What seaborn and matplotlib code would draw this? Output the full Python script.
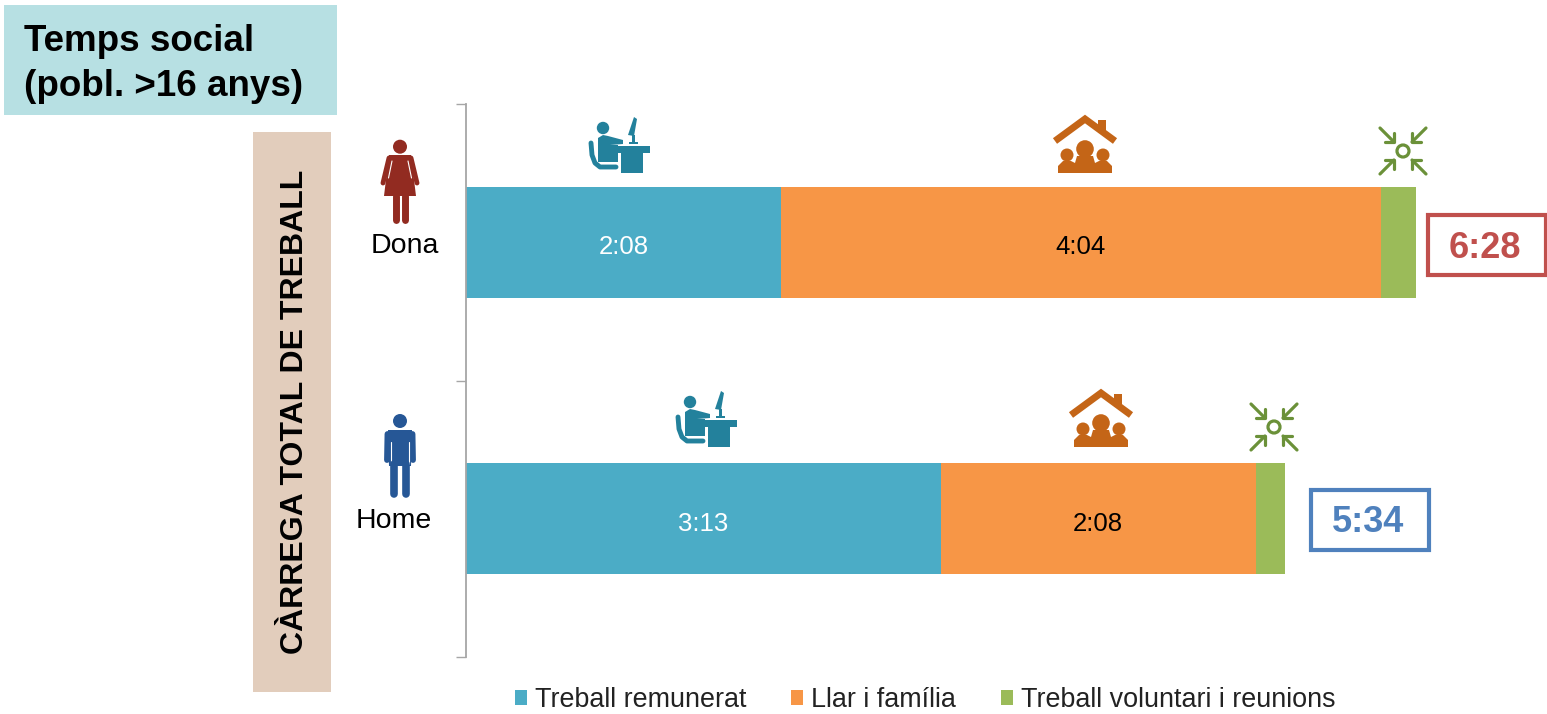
import pandas as pd
import matplotlib.pyplot as plt
import seaborn as sns
from matplotlib.patches import Circle, Polygon, Rectangle

# Minutes per day
groups = ['Dona', 'Home']
treball_remunerat = [128, 193]
llar_familia = [244, 128]
treball_voluntari = [14.3, 12]
labels_remunerat = ['2:08', '3:13']
labels_llar = ['4:04', '2:08']
totals = ['6:28', '5:34']
legend_names = ['Treball remunerat', 'Llar i família', 'Treball voluntari i reunions']

BLUE = '#4BACC6'
ORANGE = '#F79646'
GREEN = '#9BBB59'

sns.set_theme(style='white')
plt.rcParams['font.family'] = ['Liberation Sans', 'DejaVu Sans']

df = pd.DataFrame({'grup': groups, 'rem': treball_remunerat, 'llar': llar_familia, 'vol': treball_voluntari})
df['left_llar'] = df['rem']
df['left_vol'] = df['rem'] + df['llar']

fig = plt.figure(figsize=(15.47, 7.14), dpi=100)
W, H = 1547, 714
ax = fig.add_axes([466 / W, (H - 657) / H, (W - 466) / W, (657 - 104) / H])

# Stacked bars
sns.barplot(data=df, x='rem', y='grup', color=BLUE, saturation=1, width=0.4, ax=ax, label=legend_names[0], linewidth=0)
sns.barplot(data=df, x='llar', y='grup', color=ORANGE, saturation=1, width=0.4, ax=ax,
            left=df['left_llar'].values, label=legend_names[1], linewidth=0)
sns.barplot(data=df, x='vol', y='grup', color=GREEN, saturation=1, width=0.4, ax=ax,
            left=df['left_vol'].values, label=legend_names[2], linewidth=0)

lab1 = ax.bar_label(ax.containers[0], labels=labels_remunerat, label_type='center', color='white', fontsize=18.5)
lab2 = ax.bar_label(ax.containers[1], labels=labels_llar, label_type='center', color='black', fontsize=18.5)
for t in list(lab1) + list(lab2):
    t.xyann = (0, -3.5)

ax.set_xlim(0, (W - 466) / 2.46)
ax.set_ylim(1.5, -0.5)
ax.set_xlabel('')
ax.set_ylabel('')
ax.set_xticks([])
ax.set_yticks([-0.5, 0.5, 1.5])
ax.set_yticklabels([])
ax.tick_params(axis='y', left=True, length=7, width=1, color='#A6A6A6')
sns.despine(ax=ax, left=False, bottom=True)
ax.spines['left'].set_color('#A6A6A6')
ax.spines['left'].set_linewidth(1.3)

handles, labs = ax.get_legend_handles_labels()
ax.get_legend().remove()

# Overlay in pixel coordinates for boxes and icons
ov = fig.add_axes([0, 0, 1, 1], zorder=5)
ov.set_xlim(0, W)
ov.set_ylim(H, 0)
ov.axis('off')
ov.patch.set_alpha(0)

ov.legend(handles, labs, loc='center', bbox_to_anchor=(925, 700), bbox_transform=ov.transData, ncol=3,
          frameon=False, fontsize=19.4, handlelength=0.45, handleheight=0.45, handletextpad=0.3,
          columnspacing=1.65, borderpad=0, borderaxespad=0, labelcolor='#222222')

ov.add_patch(Rectangle((4, 5), 333, 110, color='#B7E0E3', lw=0))
ov.text(24, 64, 'Temps social\n(pobl. >16 anys)', fontsize=26.5, fontweight='bold', va='center', ha='left',
        color='black', linespacing=1.4)
ov.add_patch(Rectangle((253, 132), 78, 560, color='#E2CDBC', lw=0))
ov.text(295, 412, 'CÀRREGA TOTAL DE TREBALL', fontsize=23, fontweight='bold', rotation=90,
        va='center', ha='center', color='black')

ov.text(405, 246, groups[0], fontsize=20.5, ha='center', va='center', color='black')
ov.text(394, 521, groups[1], fontsize=20.5, ha='center', va='center', color='black')

for (x, y, txt, c) in [(1426, 213, totals[0], '#C0504D'), (1309, 488, totals[1], '#4F81BD')]:
    ov.add_patch(Rectangle((x + 1.5, y + 1.5), 118, 60, fill=False, ec=c, lw=3))
    ov.text(x + 59, y + 35, txt, fontsize=26, fontweight='bold', color=c, ha='center', va='center')


def woman(cx, top):
    c = '#922B21'
    ov.add_patch(Circle((cx, top + 6.7), 7, color=c, lw=0))
    ov.add_patch(Polygon([(cx - 11, top + 15), (cx + 11, top + 15), (cx + 16, top + 56), (cx - 16, top + 56)],
                         color=c, lw=0))
    for s in (-1, 1):
        ov.plot([cx + s * 11, cx + s * 17], [top + 18, top + 43], color=c, lw=3.5, solid_capstyle='round')
        ov.plot([cx + s * 8, cx + s * 11.5], [top + 21, top + 38], color='white', lw=0.8)
    ov.plot([cx - 4, cx - 4], [top + 56, top + 80], color=c, lw=5, solid_capstyle='round')
    ov.plot([cx + 5, cx + 5], [top + 56, top + 80], color=c, lw=5, solid_capstyle='round')


def man(cx, top):
    c = '#265796'
    ov.add_patch(Circle((cx, top + 7), 7, color=c, lw=0))
    ov.add_patch(Polygon([(cx - 12, top + 16), (cx + 12, top + 16), (cx + 11, top + 52), (cx - 11, top + 52)],
                         color=c, lw=0))
    for s in (-1, 1):
        ov.plot([cx + s * 12.5, cx + s * 13], [top + 20, top + 46], color=c, lw=4.2, solid_capstyle='round')
        ov.plot([cx + s * 9.3, cx + s * 9.3], [top + 28, top + 50], color='white', lw=0.8)
        ov.plot([cx + s * 6, cx + s * 6], [top + 50, top + 80], color=c, lw=5.5, solid_capstyle='round')


def desk(x, y):
    # x, y = centre of the head
    c = '#23819C'
    ov.add_patch(Circle((x, y), 6.2, color=c, lw=0))
    ov.add_patch(Polygon([(x - 5, y + 10), (x, y + 7), (x + 5, y + 8), (x + 20, y + 12), (x + 20, y + 16),
                          (x + 7, y + 17), (x + 15, y + 17), (x + 15, y + 34), (x - 5, y + 34)], color=c, lw=0))
    ov.plot([x - 12, x - 11, x - 8, x - 3, x + 13], [y + 15, y + 27, y + 35, y + 39, y + 39],
            color=c, lw=3.5, solid_capstyle='round', solid_joinstyle='round')
    ov.add_patch(Rectangle((x + 12, y + 18), 35, 7, color=c, lw=0))
    ov.add_patch(Rectangle((x + 18, y + 25), 22, 20, color=c, lw=0))
    ov.add_patch(Polygon([(x + 31, y - 11), (x + 34, y - 9), (x + 31, y + 8), (x + 25, y + 7)], color=c, lw=0))
    ov.add_patch(Rectangle((x + 29, y + 7), 2.5, 8, color=c, lw=0))
    ov.add_patch(Rectangle((x + 26, y + 14), 9, 2, color=c, lw=0))


def house(x, y):
    # x, y = centre of the middle head
    c = '#C46517'
    ov.plot([x - 30, x, x + 30], [y - 7, y - 29, y - 7], color=c, lw=5, solid_capstyle='butt', solid_joinstyle='miter')
    ov.add_patch(Rectangle((x + 13, y - 28), 8, 13, color=c, lw=0))
    ov.add_patch(Circle((x, y + 1), 8.8, color=c, lw=0))
    ov.add_patch(Circle((x - 18, y + 7), 6.5, color=c, lw=0))
    ov.add_patch(Circle((x + 18, y + 7), 6.5, color=c, lw=0))
    ov.add_patch(Polygon([(x - 27, y + 25), (x - 27, y + 18), (x - 22, y + 13), (x - 14, y + 13), (x - 10, y + 15),
                          (x - 8, y + 8), (x + 8, y + 8), (x + 10, y + 15), (x + 14, y + 13), (x + 22, y + 13),
                          (x + 27, y + 18), (x + 27, y + 25)], color=c, lw=0))


def meeting(x, y):
    c = '#6B9139'
    ov.add_patch(Circle((x, y), 6, fill=False, ec=c, lw=2.3))
    for sx in (-1, 1):
        for sy in (-1, 1):
            ov.plot([x + sx * 23, x + sx * 9], [y + sy * 23, y + sy * 9], color=c, lw=2.3)
            ov.plot([x + sx * 9, x + sx * 9, x + sx * 18], [y + sy * 18, y + sy * 9, y + sy * 9], color=c, lw=2.3)


woman(400, 140)
man(400, 414)
desk(603, 128)
desk(690, 402)
house(1085, 148)
house(1101, 422)
meeting(1403, 151)
meeting(1274, 427)

fig.savefig('out.png', dpi=100)
